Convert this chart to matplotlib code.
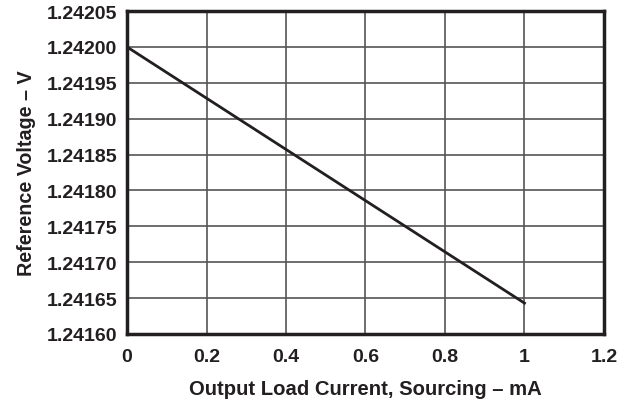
import matplotlib
matplotlib.use('Agg')
import matplotlib.pyplot as plt
from matplotlib.ticker import FormatStrFormatter

plt.rcParams['font.family'] = ['Liberation Sans', 'DejaVu Sans']
plt.rcParams['font.weight'] = 'bold'

current_ma = [0.0, 1.0]
ref_voltage = [1.24200, 1.241643]
yticks = [1.24160, 1.24165, 1.24170, 1.24175, 1.24180, 1.24185, 1.24190, 1.24195, 1.24200, 1.24205]
xticks = [0, 0.2, 0.4, 0.6, 0.8, 1, 1.2]
xticklabels = ['0', '0.2', '0.4', '0.6', '0.8', '1', '1.2']

fig = plt.figure(figsize=(6.3, 4.02), dpi=100)
ax = fig.add_axes([0.2016, 0.1667, 0.7571, 0.8033])

ax.plot(current_ma, ref_voltage, color='#231f20', lw=2)

ax.set_xlim(0, 1.2)
ax.set_ylim(1.24160, 1.24205)
ax.set_xticks(xticks)
ax.set_xticklabels(xticklabels)
ax.set_yticks(yticks)
ax.yaxis.set_major_formatter(FormatStrFormatter('%.5f'))
ax.grid(True, color='#555555', lw=1.2)
ax.tick_params(length=0, labelsize=14, colors='#231f20')
ax.tick_params(axis='x', pad=10)
ax.tick_params(axis='y', pad=7)
for s in ax.spines.values():
    s.set_linewidth(2.5)
    s.set_color('#231f20')

ax.set_xlabel('Output Load Current, Sourcing – mA', fontsize=14.6, fontweight='bold',
              color='#231f20', labelpad=10)
ax.set_ylabel('Reference Voltage – V', fontsize=14.2, fontweight='bold',
              color='#231f20', labelpad=8)

fig.savefig('out.png', dpi=100)
